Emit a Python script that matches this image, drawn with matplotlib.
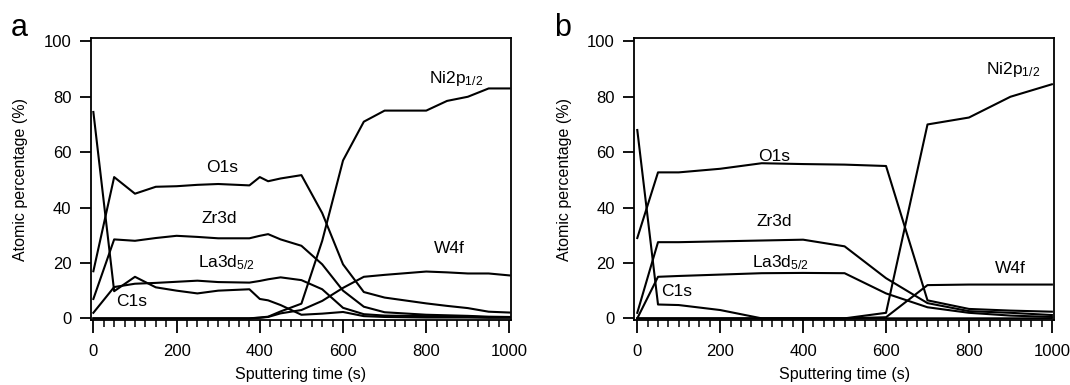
import numpy as np
import matplotlib
matplotlib.use("Agg")
import matplotlib.pyplot as plt
from matplotlib.ticker import MultipleLocator

plt.rcParams['font.family'] = ['Liberation Sans', 'DejaVu Sans']
plt.rcParams['mathtext.default'] = 'regular'

# Panel a: depth profile
x_a = [0, 50, 100, 150, 200, 250, 300, 375, 400, 420, 450, 500, 550, 600, 650, 700, 800, 850, 900, 950, 1000]
o1s_a = [17, 51, 45, 47.5, 47.7, 48.2, 48.5, 48, 51, 49.5, 50.5, 51.7, 38, 19.5, 9.5, 7.5, 5.4, 4.5, 3.7, 2.4, 2.1]
zr3d_a = [7, 28.5, 28, 29, 29.8, 29.4, 28.9, 28.9, 29.8, 30.4, 28.5, 26.2, 19.5, 10, 4.2, 2.2, 1.3, 1.1, 0.9, 0.6, 0.5]
la3d_a = [2, 11.3, 12.5, 12.8, 13.2, 13.6, 13.1, 12.9, 13.5, 14.1, 14.8, 13.8, 10.5, 3.8, 1.5, 1.0, 0.8, 0.7, 0.6, 0.4, 0.4]
c1s_a = [74.5, 9.8, 15, 11.2, 10, 9, 10, 10.5, 7, 6.5, 4.8, 1.3, 1.7, 2.3, 0.8, 0.5, 0.3, 0.3, 0.3, 0.2, 0.2]
ni_a = [0, 0, 0, 0, 0, 0, 0, 0, 0.3, 0.6, 2.5, 5.3, 28, 57, 71, 75, 75, 78.5, 80, 83, 83]
w4f_a = [0, 0, 0, 0, 0, 0, 0, 0, 0.2, 0.5, 1.8, 3, 6.3, 11, 15, 15.7, 16.9, 16.6, 16.2, 16.2, 15.5]

# Panel b
x_b = [0, 50, 100, 200, 300, 400, 500, 600, 700, 800, 900, 1000]
o1s_b = [29, 52.7, 52.7, 54, 56, 55.7, 55.5, 55, 6.5, 3.4, 2.8, 2.4]
zr3d_b = [2, 27.5, 27.5, 27.8, 28.1, 28.4, 26, 14.5, 5.5, 2.6, 2, 1.2]
la3d_b = [0, 15, 15.3, 15.8, 16.3, 16.4, 16.3, 9, 4, 2, 1, 0.5]
c1s_b = [68, 5, 4.8, 3, 0, 0, 0, 0, 0, 0, 0, 0]
ni_b = [0, 0, 0, 0, 0, 0, 0, 2, 70, 72.5, 80, 84.5]
w4f_b = [0, 0, 0, 0, 0, 0, 0, 0.4, 12, 12.2, 12.2, 12.2]

labels_a = [("O1s", 310, 54.5, 'center'), ("Zr3d", 303, 36, 'center'),
            ("La3d$_{5/2}$", 252, 20, 'left'), ("C1s", 92, 6, 'center'),
            ("Ni2p$_{1/2}$", 806, 86.5, 'left'), ("W4f", 856, 25.3, 'center')]
labels_b = [("O1s", 330, 58.3, 'center'), ("Zr3d", 330, 35, 'center'),
            ("La3d$_{5/2}$", 277, 20, 'left'), ("C1s", 95, 9.6, 'center'),
            ("Ni2p$_{1/2}$", 841, 90, 'left'), ("W4f", 901, 18, 'center')]

fig = plt.figure(figsize=(10.7, 3.85), dpi=100)
ax_a = fig.add_axes([0.0848, 0.1688, 0.3925, 0.7317])
ax_b = fig.add_axes([0.5928, 0.1688, 0.3922, 0.7317])

panels = [
    (ax_a, x_a, [o1s_a, zr3d_a, la3d_a, c1s_a, ni_a, w4f_a], labels_a, "a", (-6.3, 1003)),
    (ax_b, x_b, [o1s_b, zr3d_b, la3d_b, c1s_b, ni_b, w4f_b], labels_b, "b", (-7.2, 1005)),
]

for ax, x, series, labels, letter, xlim in panels:
    for y in series:
        ax.plot(x, y, color='black', lw=1.5)
    for txt, tx, ty, ha in labels:
        ax.text(tx, ty, txt, ha=ha, va='center', fontsize=12.5)
    ax.set_xlim(*xlim)
    ax.set_ylim(-0.6, 101.1)
    ax.set_xticks([0, 200, 400, 600, 800, 1000])
    ax.xaxis.set_minor_locator(MultipleLocator(25))
    ax.set_yticks([0, 20, 40, 60, 80, 100])
    ax.tick_params(axis='x', which='major', direction='out', length=9, width=1.3, pad=8, labelsize=12)
    ax.tick_params(axis='x', which='minor', direction='out', length=5, width=1.1)
    ax.tick_params(axis='y', which='major', direction='out', length=8, width=1.3, pad=6, labelsize=12)
    for s in ax.spines.values():
        s.set_linewidth(1.3)
    ax.set_xlabel("Sputtering time (s)", fontsize=11.5, labelpad=6)
    ax.set_ylabel("Atomic percentage (%)", fontsize=11.5, labelpad=11)
    ax.text(-0.19, 1.035, letter, transform=ax.transAxes, fontsize=22, va='center', ha='left')

fig.savefig("out.png", dpi=100)
